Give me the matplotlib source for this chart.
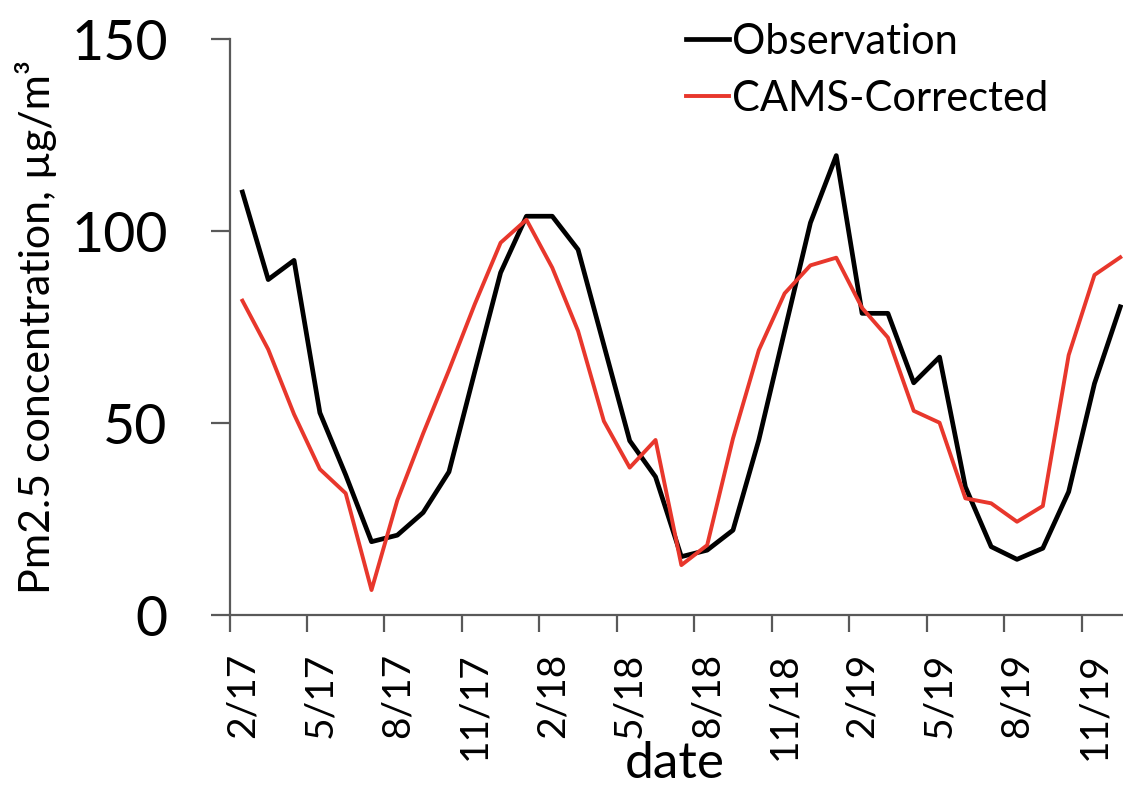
import matplotlib
matplotlib.use('Agg')
import matplotlib.pyplot as plt
import numpy as np

plt.rcParams['font.family'] = ['Lato', 'DejaVu Sans']

# monthly PM2.5 means, Feb 2017 .. Dec 2019
months = ['2/17', '3/17', '4/17', '5/17', '6/17', '7/17', '8/17', '9/17', '10/17', '11/17', '12/17',
          '1/18', '2/18', '3/18', '4/18', '5/18', '6/18', '7/18', '8/18', '9/18', '10/18', '11/18', '12/18',
          '1/19', '2/19', '3/19', '4/19', '5/19', '6/19', '7/19', '8/19', '9/19', '10/19', '11/19', '12/19']

observation = [110.2, 87.4, 92.4, 52.7, 36.5, 19.1, 20.8, 26.7, 37.3, 63.4, 89.2, 103.9,
               103.9, 95.2, 70.3, 45.4, 36.0, 15.2, 16.9, 22.1, 45.6, 74.0, 102.2, 119.7,
               78.6, 78.6, 60.5, 67.2, 33.4, 17.8, 14.5, 17.4, 32.1, 60.3, 80.3]

cams_corrected = [81.9, 69.2, 52.3, 38.0, 31.7, 6.5, 29.9, 47.3, 63.8, 81.0, 97.0, 103.0,
                  90.5, 74.0, 50.5, 38.4, 45.6, 13.0, 18.2, 46.0, 69.0, 83.8, 91.1, 93.1,
                  80.0, 72.3, 53.2, 50.1, 30.4, 29.1, 24.3, 28.4, 67.7, 88.6, 93.2]

W, H = 1123, 788
fig = plt.figure(figsize=(W / 100, H / 100), dpi=100)

# axes box in pixels: left spine at 229, x axis at 615, 150 at 39
left, bottom, top = 229.5, 615, 39.3
month_px = 25.82
right = left + len(months) * month_px
ax = fig.add_axes([left / W, 1 - bottom / H, (right - left) / W, (bottom - top) / H])

x = np.arange(len(months))
ax.plot(x, observation, color='black', lw=3.4, label='Observation')
ax.plot(x, cams_corrected, color='#E8372C', lw=2.8, label='CAMS-Corrected')

ax.set_xlim(-0.5, len(months) - 0.5)
ax.set_ylim(0, 150)

for s in ['top', 'right']:
    ax.spines[s].set_visible(False)
for s in ['left', 'bottom']:
    ax.spines[s].set_color('#595959')
    ax.spines[s].set_linewidth(1.6)

# y axis
ax.set_yticks([0, 50, 100, 150])
ax.tick_params(axis='y', which='major', direction='out', length=13.5, width=1.6,
               color='#595959', labelsize=40, pad=31)

# x axis: tick marks on month boundaries, labels on month centres, every third month
ax.set_xticks(np.arange(0, len(months), 3) - 0.5)
ax.set_xticklabels([])
ax.tick_params(axis='x', which='major', direction='out', length=12, width=1.6, color='#595959')
ax.set_xticks(np.arange(0, len(months), 3), minor=True)
ax.set_xticklabels(months[::3], minor=True, rotation=90, fontsize=28)
ax.tick_params(axis='x', which='minor', length=0, pad=27)

ax.set_ylabel('Pm2.5 concentration, µg/m³', fontsize=31)
ax.yaxis.set_label_coords((57 - left) / (right - left), 0.5)

fig.text(675 / W, 1 / H, 'date', fontsize=37, ha='center', va='bottom')

ax.legend(loc='upper left', bbox_to_anchor=(686 / W, 1 - 23 / H), bbox_transform=fig.transFigure,
          frameon=False, fontsize=30, handlelength=1.03, handletextpad=0.07,
          labelspacing=0.45, borderpad=0, borderaxespad=0)

fig.savefig('out.png', dpi=100)
